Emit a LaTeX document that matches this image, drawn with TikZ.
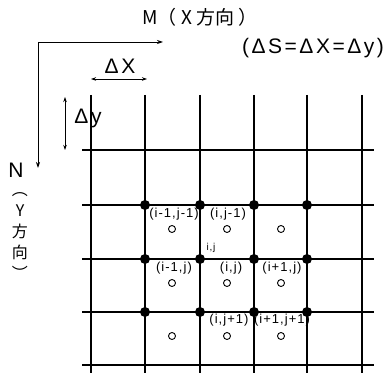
\documentclass[tikz,border=0pt]{standalone}
\usepackage{fontspec}
\setmainfont{Liberation Sans}
\newfontfamily\lsfont[LetterSpace=12]{Liberation Sans}
\newfontfamily\idxfont[LetterSpace=8]{Liberation Sans}
\newfontfamily\cjk{Noto Sans CJK JP}
\usetikzlibrary{arrows.meta}

\begin{document}
\begin{tikzpicture}[x=1pt, y=-1pt,
  gridline/.style={line width=1.1pt},
  node dot/.style={circle, fill, inner sep=0pt, minimum size=10pt},
  cell dot/.style={circle, draw, inner sep=0pt, minimum size=7pt, line width=0.9pt},
  idx/.style={font=\idxfont\fontsize{13}{13}\selectfont, inner sep=0pt},
  lbl/.style={font=\lsfont\fontsize{21}{21}\selectfont, inner sep=0pt},
  axis/.style={-{Stealth[length=6pt, width=4pt]}, line width=0.8pt},
  dim/.style={{Stealth[length=5pt, width=3.5pt]}-{Stealth[length=5pt, width=3.5pt]}, line width=0.7pt}
]
\useasboundingbox (0,0) rectangle (387,374);
% grid
\foreach \x in {91,145,200,254,307,362}
  \draw[gridline] (\x,95) -- (\x,373);
\foreach \y in {150,205,259,312,365}
  \draw[gridline] (82,\y) -- (374,\y);
% grid points and cell centres
\foreach \x/\i in {145/1,200/2,254/3,307/4}
  \foreach \y/\j in {205/1,259/2,312/3}
    \node[node dot] (p\i\j) at (\x,\y) {};
\foreach \x/\i in {172/1,227/2,281/3}
  \foreach \y/\j in {229/1,283/2,336/3}
    \node[cell dot] (c\i\j) at (\x,\y) {};
% indices
\node[idx] (l11) at (174,214) {(i-1,j-1)};
\node[idx] (l21) at (228,214) {(i,j-1)};
\node[idx, font=\idxfont\fontsize{10}{10}\selectfont] (lij) at (211,248) {i,j};
\node[idx] (l12) at (174,268) {(i-1,j)};
\node[idx] (l22) at (231,268) {(i,j)};
\node[idx] (l32) at (282,268) {(i+1,j)};
\node[idx] (l23) at (229,320) {(i,j+1)};
\node[idx] (l33) at (282,320) {(i+1,j+1)};
% axes
\coordinate (o) at (38,42);
\coordinate (mx) at (163,42);
\coordinate (ny) at (38,168);
\draw[axis] (o) -- (mx);
\draw[axis] (o) -- (ny);
\node[font=\cjk\fontsize{19}{19}\selectfont, inner sep=0pt] (mlab) at (200,17) {M（ X 方向 ）};
\node[lbl] (nlab) at (16,170) {N};
\node[font=\cjk\fontsize{16}{21}\selectfont, inner sep=0pt, align=center] (ylab) at (20,236)
  {︵\\Y\\方\\向\\︶};
\node[lbl] (slab) at (313,48) {(ΔS=ΔX=Δy)};
% cell size
\coordinate (dxa) at (91,79);
\coordinate (dxb) at (147,79);
\coordinate (dya) at (65,97);
\coordinate (dyb) at (65,150);
\draw[dim] (dxa) -- (dxb);
\draw[dim] (dya) -- (dyb);
\node[lbl] (dxlab) at (120,66) {ΔX};
\node[lbl] (dylab) at (88,118) {Δy};
\end{tikzpicture}
\end{document}
